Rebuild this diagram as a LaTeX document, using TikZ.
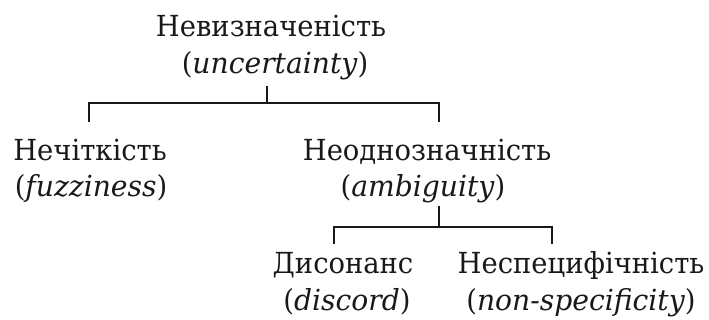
\documentclass[tikz,border=0pt]{standalone}
\usepackage{fontspec}
\setmainfont{DejaVu Serif Condensed}[
  UprightFeatures={FakeStretch=1.05},
  ItalicFeatures={FakeStretch=1.08}]
\usetikzlibrary{calc}
\begin{document}
\begin{tikzpicture}[x=1pt,y=1pt,
  term/.style={anchor=base,inner sep=0pt,font=\fontsize{29}{35}\selectfont,text=black!90},
  conn/.style={draw=black!90,line width=1.7pt}]
\useasboundingbox (0,0) rectangle (709,320);

% terms (Ukrainian name over the English one)
\node[term] (root)  at (271,283) {Невизначеність};
\node[term] (rootE) at (275,246) {(\textit{uncertainty})};
\node[term] (fuz)   at (90,159)  {Нечіткість};
\node[term] (fuzE)  at (91,123)  {(\textit{fuzziness})};
\node[term] (amb)   at (427,159) {Неоднозначність};
\node[term] (ambE)  at (423,123) {(\textit{ambiguity})};
\node[term] (dis)   at (343,46)  {Дисонанс};
\node[term] (disE)  at (347,9)   {(\textit{discord})};
\node[term] (nsp)   at (581,46)  {Неспецифічність};
\node[term] (nspE)  at (581,9)   {(\textit{non-specificity})};

% bracket: uncertainty -> fuzziness, ambiguity
\coordinate (j1) at (267,217);
\coordinate (f1) at (89,198);
\coordinate (a1) at (439,198);
\draw[conn] ($(rootE.south -| j1)+(0,-5)$) -- (j1);
\draw[conn] (f1) |- (a1 |- j1) -- (a1);

% bracket: ambiguity -> discord, non-specificity
\coordinate (j2) at (439,93);
\coordinate (d1) at (334,76);
\coordinate (n1) at (552,76);
\draw[conn] ($(ambE.south -| j2)+(0,-2)$) -- (j2);
\draw[conn] (d1) |- (n1 |- j2) -- (n1);
\end{tikzpicture}
\end{document}
